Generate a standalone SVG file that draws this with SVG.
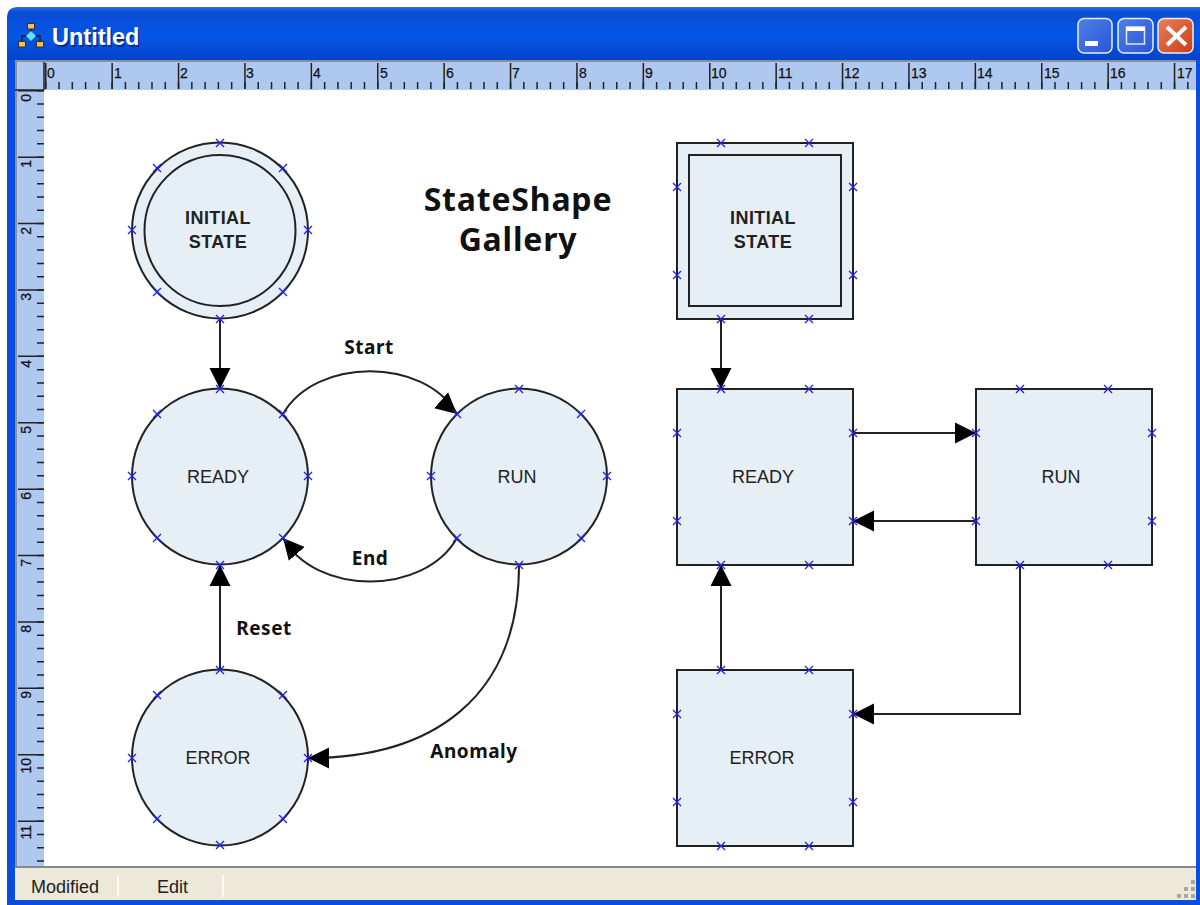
<svg xmlns="http://www.w3.org/2000/svg" xmlns:xlink="http://www.w3.org/1999/xlink" width="1200" height="905" viewBox="0 0 1200 905">
<style>
.node{fill:#e6eef6;stroke:#222;stroke-width:2}
.conn{fill:none;stroke:#222;stroke-width:2}
.ntext{font-family:"Liberation Sans",Arial,sans-serif;font-size:18px;fill:#222;text-anchor:middle}
.btext{font-family:"Noto Sans","Liberation Sans",sans-serif;font-weight:bold;font-size:19px;letter-spacing:.5px;fill:#111;text-anchor:middle}
.ititle{font-family:"Liberation Sans",Arial,sans-serif;font-weight:bold;font-size:18px;letter-spacing:.4px;fill:#222;text-anchor:middle}
.gtitle{font-family:"Noto Sans","Liberation Sans",sans-serif;font-weight:bold;font-size:32px;letter-spacing:.8px;fill:#111;text-anchor:middle}
.rh{font-family:"Liberation Sans",Arial,sans-serif;font-size:14px;fill:#111;stroke:#111;stroke-width:.25}
.rv{font-family:"Liberation Sans",Arial,sans-serif;font-size:14px;fill:#111;stroke:#111;stroke-width:.25;text-anchor:end}
.st{font-family:"Liberation Sans",Arial,sans-serif;font-size:18px;fill:#222}
.tick{fill:none;stroke:#222}
.btn{stroke:#e8eefc;stroke-width:1.5}
.cap{font-family:"Liberation Sans",sans-serif;font-weight:bold;font-size:23.5px}
</style>
<defs>
<marker id="ah" markerUnits="userSpaceOnUse" markerWidth="24" markerHeight="24" refX="21" refY="11" orient="auto">
<path d="M0,0.5 L21,11 L0,21.5 Z" fill="#000"/>
</marker>
<marker id="ahStart" markerUnits="userSpaceOnUse" markerWidth="24" markerHeight="24" refX="21" refY="11" orient="41">
<path d="M0,0.5 L21,11 L0,21.5 Z" fill="#000"/>
</marker>
<marker id="ahEnd" markerUnits="userSpaceOnUse" markerWidth="24" markerHeight="24" refX="21" refY="11" orient="229">
<path d="M0,0.5 L21,11 L0,21.5 Z" fill="#000"/>
</marker>
<path id="p" d="M-4,-4 L4,4 M-4,4 L4,-4" fill="none" stroke="#2222f0" stroke-width="1.3"/>
<linearGradient id="tb" gradientUnits="userSpaceOnUse" x1="0" y1="7" x2="0" y2="60">
<stop offset="0" stop-color="#2a6fe2"/><stop offset="0.1" stop-color="#0a4cd6"/><stop offset="0.55" stop-color="#0456e6"/><stop offset="1" stop-color="#0343c8"/>
</linearGradient>
<linearGradient id="bmin" x1="0" y1="0" x2="1" y2="1"><stop offset="0" stop-color="#4f7fe8"/><stop offset="1" stop-color="#2a55d8"/></linearGradient>
<linearGradient id="bcl" x1="0" y1="0" x2="1" y2="1"><stop offset="0" stop-color="#e8805a"/><stop offset="1" stop-color="#cc3c14"/></linearGradient>
</defs>

<g id="window">
<path d="M7,60 V18 Q7,7 18,7 H1200 V60 Z" fill="url(#tb)"/>
<rect x="7" y="60" width="1193" height="845" fill="#0a4ee0"/>
<text class="cap" x="53.500" y="46.500" fill="#0a2a90">Untitled</text>
<text class="cap" x="52" y="45" fill="#fff">Untitled</text>
<g id="app-icon">
<path d="M31,26 V36 M22,44 V36 H40 V44" fill="none" stroke="#222" stroke-width="1.5"/>
<rect x="27.500" y="23.500" width="7" height="5.500" fill="#f0c050" stroke="#333"/>
<rect x="18.500" y="41.500" width="7" height="5.500" fill="#f0c050" stroke="#333"/>
<rect x="36.500" y="41.500" width="7" height="5.500" fill="#f0c050" stroke="#333"/>
<path d="M31,31 L36,36 L31,41 L26,36 Z" fill="#60e0f0"/>
</g>
<g id="buttons">
<rect class="btn" x="1078" y="18.500" width="34" height="34.500" rx="6" fill="url(#bmin)"/>
<rect x="1085" y="41" width="13" height="5" fill="#fff"/>
<rect class="btn" x="1118" y="18.500" width="35" height="34.500" rx="6" fill="url(#bmin)"/>
<rect x="1126.500" y="27" width="18" height="17" fill="none" stroke="#dfe8ff" stroke-width="1.5"/>
<rect x="1126.500" y="27" width="18" height="4" fill="#fff"/>
<rect class="btn" x="1158" y="18.500" width="35" height="34.500" rx="6" fill="url(#bcl)"/>
<path d="M1167,27 L1186,45 M1186,27 L1167,45" stroke="#fff" stroke-width="4"/>
</g>
</g>

<g id="rulers">
<rect x="15" y="60" width="1181" height="30" fill="#aec8f0"/>
<rect x="15" y="60" width="29" height="806" fill="#aec8f0"/>
<rect x="15" y="60" width="1181" height="2" fill="#8a8f9a"/>
<rect x="15" y="60" width="2" height="806" fill="#8a8f9a"/>
<rect x="44" y="90" width="1152" height="776" fill="#fff"/>
<path class="tick" d="M44,62 V90 M15,90 H44" stroke-width="1.500"/>
<path class="tick" d="M45,85.500 H1196" stroke-width="7" stroke-dasharray="1.500 11.780"/>
<path class="tick" d="M45,76 H1196" stroke-width="26" stroke-dasharray="1.500 64.900"/>
<path class="tick" d="M40.500,90 V866" stroke-width="7" stroke-dasharray="1.500 11.780"/>
<path class="tick" d="M31,90 V866" stroke-width="26" stroke-dasharray="1.500 64.900"/>
<g class="rh">
<text x="47" y="78">0</text><text x="114" y="78">1</text><text x="180" y="78">2</text><text x="246" y="78">3</text><text x="313" y="78">4</text><text x="380" y="78">5</text><text x="446" y="78">6</text><text x="512" y="78">7</text><text x="579" y="78">8</text><text x="645" y="78">9</text><text x="711" y="78">10</text><text x="778" y="78">11</text><text x="844" y="78">12</text><text x="911" y="78">13</text><text x="977" y="78">14</text><text x="1044" y="78">15</text><text x="1110" y="78">16</text><text x="1177" y="78">17</text>
</g>
<g class="rv">
<text transform="translate(31,94) rotate(-90)">0</text><text transform="translate(31,160) rotate(-90)">1</text><text transform="translate(31,227) rotate(-90)">2</text><text transform="translate(31,293) rotate(-90)">3</text><text transform="translate(31,360) rotate(-90)">4</text><text transform="translate(31,426) rotate(-90)">5</text><text transform="translate(31,492) rotate(-90)">6</text><text transform="translate(31,559) rotate(-90)">7</text><text transform="translate(31,625) rotate(-90)">8</text><text transform="translate(31,691) rotate(-90)">9</text><text transform="translate(31,758) rotate(-90)">10</text><text transform="translate(31,825) rotate(-90)">11</text>
</g>
</g>

<g id="statusbar">
<rect x="15" y="866" width="1181" height="34" fill="#ece9d8"/>
<rect x="15" y="866" width="1181" height="2" fill="#85888c"/>
<path d="M118,875 V897 M223,875 V897" stroke="#fff" stroke-width="1.500"/>
<text class="st" x="31" y="893">Modified</text>
<text class="st" x="157" y="893">Edit</text>
<g fill="#a8a8a0"><rect x="1191" y="880" width="4" height="4"/><rect x="1184" y="887" width="4" height="4"/><rect x="1191" y="887" width="4" height="4"/><rect x="1177" y="894" width="4" height="4"/><rect x="1184" y="894" width="4" height="4"/><rect x="1191" y="894" width="4" height="4"/></g>
</g>

<text class="gtitle" x="518" y="211">StateShape</text>
<text class="gtitle" x="518" y="251">Gallery</text>

<g id="connectors">
<path id="c1" class="conn" marker-end="url(#ah)" d="M220,319 V389"/>
<path id="c2" class="conn" marker-end="url(#ahStart)" d="M283,414 C316,357 424,357 457,414"/>
<path id="c3" class="conn" marker-end="url(#ahEnd)" d="M457,538 C424,596 316,596 283,538"/>
<path id="c4" class="conn" marker-end="url(#ah)" d="M220,670 V565"/>
<path id="c5" class="conn" marker-end="url(#ah)" d="M519,565 C519,700 430,758 308,758"/>
<path id="c6" class="conn" marker-end="url(#ah)" d="M721,319 V389"/>
<path id="c7" class="conn" marker-end="url(#ah)" d="M853,433 H976"/>
<path id="c8" class="conn" marker-end="url(#ah)" d="M976,521 H853"/>
<path id="c9" class="conn" marker-end="url(#ah)" d="M721,670 V565"/>
<path id="c10" class="conn" marker-end="url(#ah)" d="M1020,565 V714 H853"/>
</g>
<g id="connector-labels">
<text class="btext" x="369" y="354">Start</text>
<text class="btext" x="370" y="565">End</text>
<text class="btext" x="264" y="635">Reset</text>
<text class="btext" x="474" y="758">Anomaly</text>
</g>

<g id="c-initial">
<circle class="node" cx="220" cy="230.500" r="88"/><circle class="node" cx="220" cy="230.500" r="75.500"/>
<text class="ititle" x="218" y="224">INITIAL</text><text class="ititle" x="218" y="248">STATE</text>
<use xlink:href="#p" x="220" y="143"/><use xlink:href="#p" x="157" y="168"/><use xlink:href="#p" x="283" y="168"/><use xlink:href="#p" x="132" y="230"/><use xlink:href="#p" x="308" y="230"/><use xlink:href="#p" x="157" y="292"/><use xlink:href="#p" x="283" y="292"/><use xlink:href="#p" x="220" y="319"/>
</g>
<g id="c-ready">
<circle class="node" cx="220" cy="476.500" r="88"/>
<text class="ntext" x="218" y="483">READY</text>
<use xlink:href="#p" x="220" y="389"/><use xlink:href="#p" x="157" y="414"/><use xlink:href="#p" x="283" y="414"/><use xlink:href="#p" x="132" y="476"/><use xlink:href="#p" x="308" y="476"/><use xlink:href="#p" x="157" y="538"/><use xlink:href="#p" x="283" y="538"/><use xlink:href="#p" x="220" y="565"/>
</g>
<g id="c-run">
<circle class="node" cx="519" cy="476.500" r="88"/>
<text class="ntext" x="517" y="483">RUN</text>
<use xlink:href="#p" x="519" y="389"/><use xlink:href="#p" x="457" y="414"/><use xlink:href="#p" x="581" y="414"/><use xlink:href="#p" x="431" y="476"/><use xlink:href="#p" x="607" y="476"/><use xlink:href="#p" x="457" y="538"/><use xlink:href="#p" x="581" y="538"/><use xlink:href="#p" x="519" y="565"/>
</g>
<g id="c-error">
<circle class="node" cx="220" cy="757.500" r="88"/>
<text class="ntext" x="218" y="764">ERROR</text>
<use xlink:href="#p" x="220" y="670"/><use xlink:href="#p" x="157" y="695"/><use xlink:href="#p" x="283" y="695"/><use xlink:href="#p" x="132" y="758"/><use xlink:href="#p" x="308" y="758"/><use xlink:href="#p" x="157" y="819"/><use xlink:href="#p" x="283" y="819"/><use xlink:href="#p" x="220" y="845"/>
</g>

<g id="s-initial">
<rect class="node" x="677" y="143" width="176" height="176"/><rect class="node" x="689" y="155" width="152" height="151"/>
<text class="ititle" x="763" y="224">INITIAL</text><text class="ititle" x="763" y="248">STATE</text>
<use xlink:href="#p" x="721" y="143"/><use xlink:href="#p" x="809" y="143"/><use xlink:href="#p" x="677" y="187"/><use xlink:href="#p" x="853" y="187"/><use xlink:href="#p" x="677" y="275"/><use xlink:href="#p" x="853" y="275"/><use xlink:href="#p" x="721" y="319"/><use xlink:href="#p" x="809" y="319"/>
</g>
<g id="s-ready">
<rect class="node" x="677" y="389" width="176" height="176"/>
<text class="ntext" x="763" y="483">READY</text>
<use xlink:href="#p" x="721" y="389"/><use xlink:href="#p" x="809" y="389"/><use xlink:href="#p" x="677" y="433"/><use xlink:href="#p" x="853" y="433"/><use xlink:href="#p" x="677" y="521"/><use xlink:href="#p" x="853" y="521"/><use xlink:href="#p" x="721" y="565"/><use xlink:href="#p" x="809" y="565"/>
</g>
<g id="s-run">
<rect class="node" x="976" y="389" width="176" height="176"/>
<text class="ntext" x="1061" y="483">RUN</text>
<use xlink:href="#p" x="1020" y="389"/><use xlink:href="#p" x="1108" y="389"/><use xlink:href="#p" x="976" y="433"/><use xlink:href="#p" x="1152" y="433"/><use xlink:href="#p" x="976" y="521"/><use xlink:href="#p" x="1152" y="521"/><use xlink:href="#p" x="1020" y="565"/><use xlink:href="#p" x="1108" y="565"/>
</g>
<g id="s-error">
<rect class="node" x="677" y="670" width="176" height="176"/>
<text class="ntext" x="762" y="764">ERROR</text>
<use xlink:href="#p" x="721" y="670"/><use xlink:href="#p" x="809" y="670"/><use xlink:href="#p" x="677" y="714"/><use xlink:href="#p" x="853" y="714"/><use xlink:href="#p" x="677" y="802"/><use xlink:href="#p" x="853" y="802"/><use xlink:href="#p" x="721" y="846"/><use xlink:href="#p" x="809" y="846"/>
</g>
</svg>
